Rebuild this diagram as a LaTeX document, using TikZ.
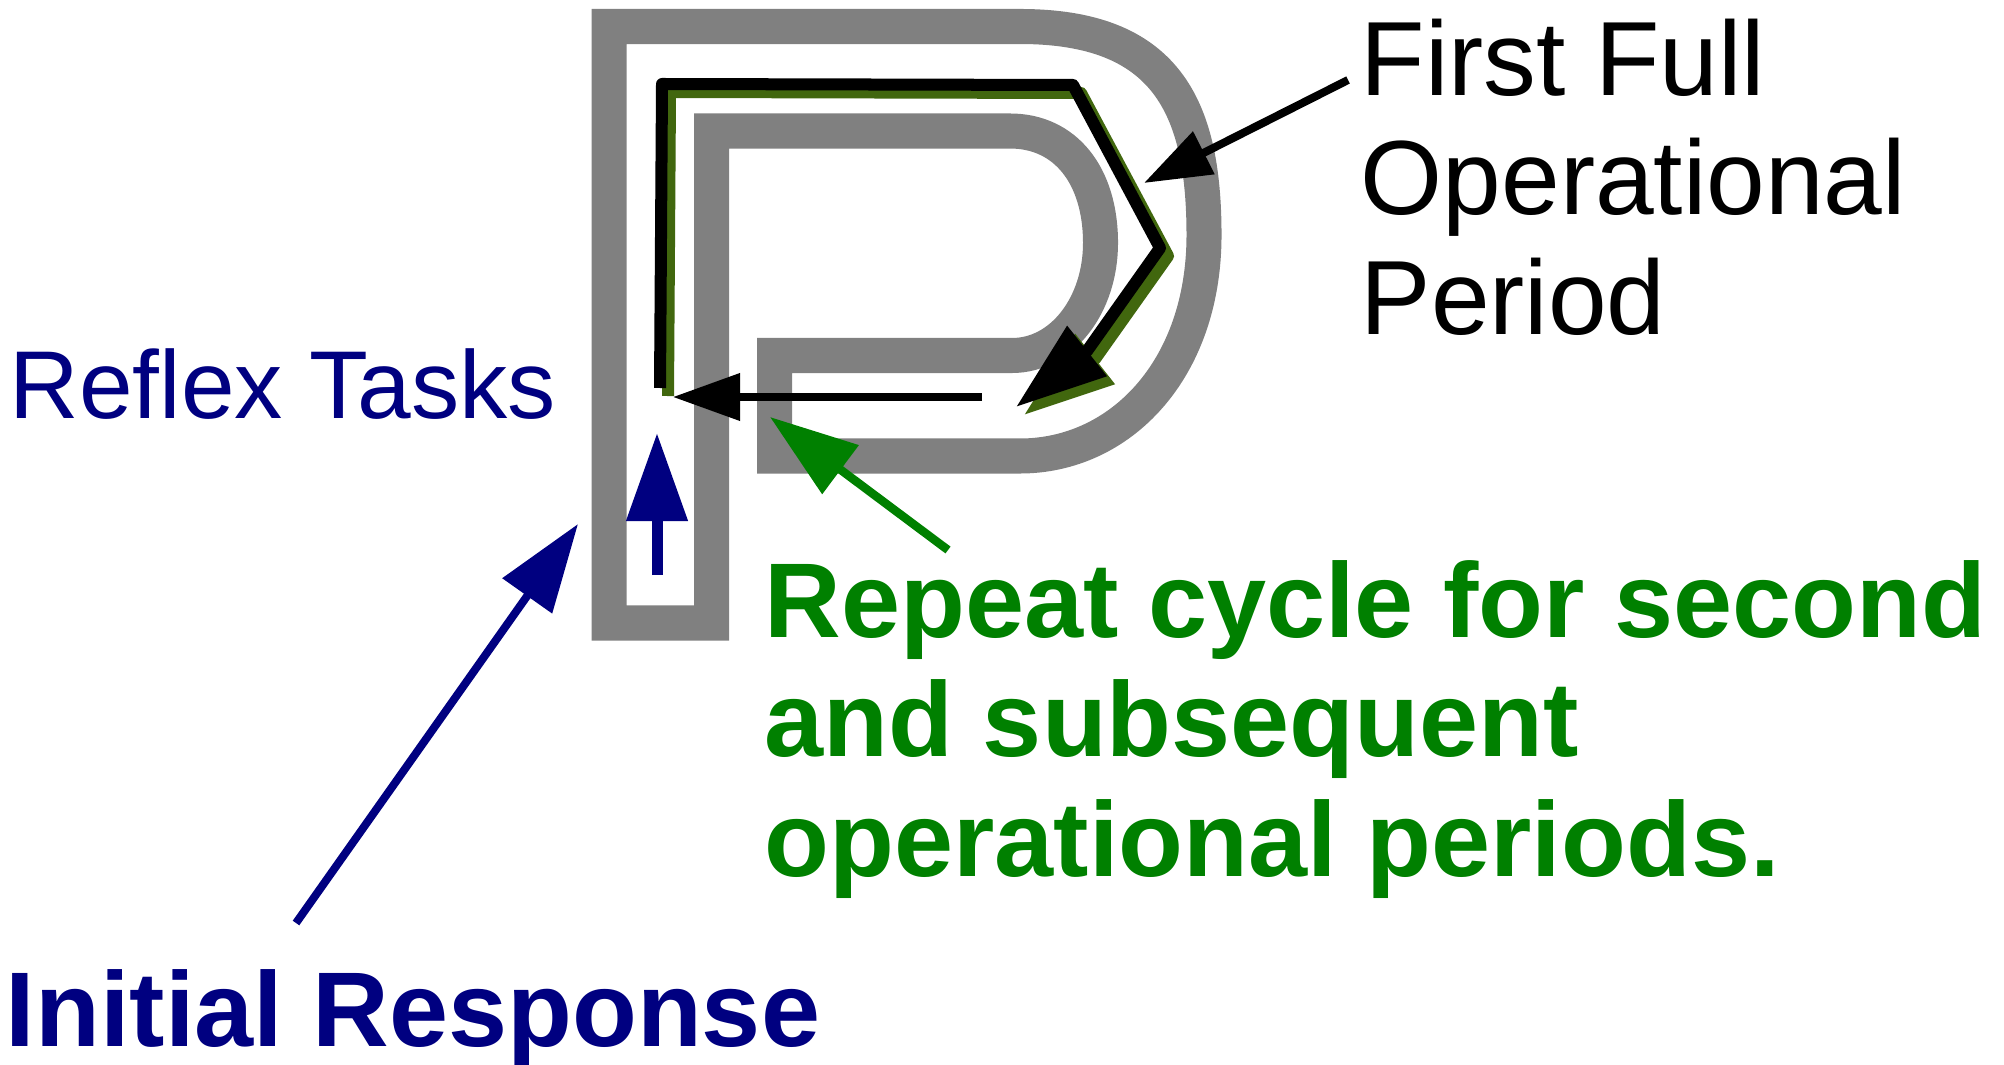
\documentclass[tikz,border=0pt]{standalone}
\usepackage{fontspec}
\setmainfont{Liberation Sans}
\usetikzlibrary{arrows.meta}

\definecolor{navyblue}{RGB}{0,0,128}
\definecolor{cyclegreen}{RGB}{0,128,0}
\definecolor{shadowolive}{RGB}{65,103,14}
\definecolor{bandgray}{RGB}{128,128,128}

\begin{document}
\begin{tikzpicture}[x=0.01cm, y=-0.01cm,
    band/.style={draw=bandgray, line width=0.35cm, line join=miter},
    route/.style={line width=0.12cm, line join=round, -{Triangle[length=0.905cm,width=0.61cm]}},
    bigtip/.style={-{Triangle[length=0.88cm,width=0.59cm]}},
    smalltip/.style={-{Triangle[length=0.67cm,width=0.46cm]}},
    lbl/.style={anchor=base west, inner sep=0pt}]
    \useasboundingbox (0,0) rectangle (2004,1064);

    % the P outline
    \draw[band] (609,623) -- (609,26.5) -- (1020,26.5)
        .. controls (1165,26.5) and (1204,105) .. (1204,235)
        .. controls (1204,370) and (1120,456) .. (1020,456)
        -- (774.5,456) -- (774.5,355.5) -- (1012,355.5)
        .. controls (1062,355.5) and (1100.5,305) .. (1100.5,243)
        .. controls (1100.5,175) and (1065,131) .. (1010,131)
        -- (711.5,131) -- (711.5,623) -- cycle;

    % labels (multi-line ones sit on their last baseline)
    \node[lbl, text=navyblue, font=\fontsize{27.4pt}{31pt}\selectfont] (reflex) at (9,418) {Reflex Tasks};
    \node[lbl, text=navyblue, font=\fontsize{30.2pt}{33.9pt}\selectfont\bfseries] (initial) at (5,1046) {Initial Response};
    \node[lbl, align=left, font=\fontsize{30pt}{33.9pt}\selectfont] (firstfull) at (1360,334) {First Full\\Operational\\Period};
    \node[lbl, align=left, text=cyclegreen, font=\fontsize{30.2pt}{33.9pt}\selectfont\bfseries] (repeat) at (764,876) {Repeat cycle for second\\and subsequent\\operational periods.};

    % points of the cycle route
    \coordinate (r0) at (660,388);
    \coordinate (r1) at (662,84);
    \coordinate (r2) at (1073,85);
    \coordinate (r3) at (1160,248);
    \coordinate (r4) at (1087,351);
    \coordinate (r5) at (1016,407);

    % first full period, with its shadow
    \draw[route, shadowolive, transform canvas={xshift=0.08cm, yshift=-0.08cm}] (r0) -- (r1) -- (r2) -- (r3) -- (r4) -- (r5);
    \draw[route] (r0) -- (r1) -- (r2) -- (r3) -- (r4) -- (r5);

    % back to the reflex tasks
    \coordinate (backTail) at (982,397);
    \coordinate (backTip) at (673,397);
    \draw[smalltip, line width=0.073cm] (backTail) -- (backTip);

    % pointers from the labels
    \coordinate (ffTail) at (1348,80);
    \coordinate (ffTip) at (1144,183);
    \draw[smalltip, line width=0.08cm] (ffTail) -- (ffTip);

    \coordinate (rcTail) at (948,550);
    \coordinate (rcTip) at (770,417);
    \draw[bigtip, cyclegreen, line width=0.085cm] (rcTail) -- (rcTip);

    \coordinate (irTail) at (296,923);
    \coordinate (irTip) at (578,524);
    \draw[bigtip, navyblue, line width=0.08cm] (irTail) -- (irTip);

    % start of the response
    \coordinate (upTail) at (657,575);
    \coordinate (upTip) at (657,433);
    \draw[bigtip, navyblue, line width=0.11cm] (upTail) -- (upTip);
\end{tikzpicture}
\end{document}
